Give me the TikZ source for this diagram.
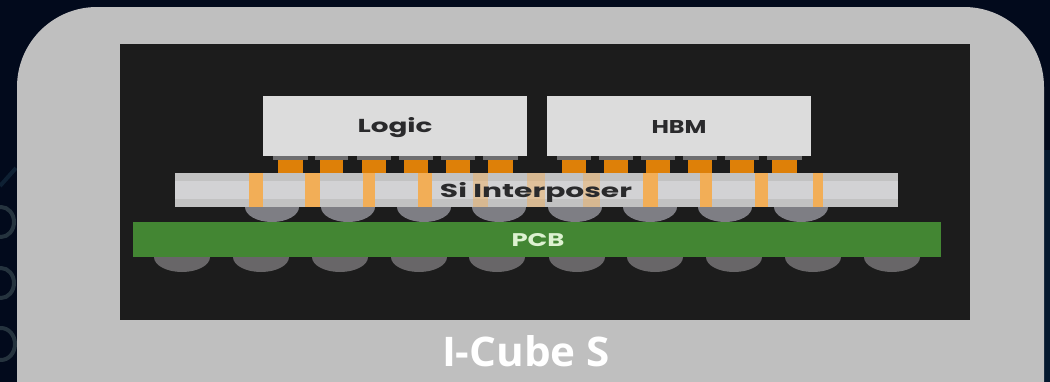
\documentclass[tikz,border=0pt]{standalone}
\usepackage{fontspec}
\setmainfont{Poppins}
\newfontfamily\capfont{Open Sans}
\definecolor{bgnavy}{HTML}{020A1C}
\definecolor{bgblue}{HTML}{04182E}
\definecolor{panel}{HTML}{BFBFBF}
\definecolor{frameblack}{HTML}{1C1C1C}
\definecolor{chipgrey}{HTML}{DCDCDC}
\definecolor{intergrey}{HTML}{D2D2D4}
\definecolor{interband}{HTML}{C2C2C2}
\definecolor{pcbgreen}{HTML}{438633}
\definecolor{pad}{HTML}{DE8008}
\definecolor{via}{HTML}{F2AE57}
\definecolor{ballup}{HTML}{7E7E84}
\definecolor{balllow}{HTML}{686668}
\definecolor{padrim}{HTML}{6E6E70}
\definecolor{ring}{HTML}{25333E}
\definecolor{darktext}{HTML}{2A2A2C}
\definecolor{pcbtext}{HTML}{DDF2D0}
\tikzset{
  chip/.style={fill=chipgrey,draw=none,minimum height=45pt,minimum width=198pt,inner sep=0pt,text=darktext},
  padbar/.style={fill=pad,draw=none},
  viabar/.style={fill=via,draw=none},
  fadevia/.style={fill=via,draw=none,opacity=0.45},
  ringline/.style={draw=ring,line width=3pt},
}
\newcommand{\wtxt}[3]{\resizebox{0.75\dimexpr #1pt\relax}{0.75\dimexpr #2pt\relax}{#3}}
\begin{document}
\begin{tikzpicture}[x=0.75pt,y=-0.75pt]
\useasboundingbox (0,0) rectangle (1050,382);
\fill[bgnavy] (0,0) rectangle (1050,382);
\fill[bgblue] (1044,150) rectangle (1050,382);
% faint rings at the left edge
\begin{scope}
\clip (0,0) rectangle (17,382);
\draw[ringline] (1,222) ellipse[x radius=13,y radius=15];
\draw[ringline] (1,283) ellipse[x radius=13,y radius=15];
\draw[ringline] (1,344) ellipse[x radius=14,y radius=16];
\draw[ringline,draw=bgblue!70!ring] (0,186) -- (16,168);
\end{scope}
\fill[panel] (17,382) -- (17,87) arc[start angle=180,end angle=270,radius=80] -- (964,7) arc[start angle=270,end angle=360,radius=80] -- (1044,382) -- cycle;
\fill[frameblack] (120,44) rectangle (970,320);
% lower balls
\foreach \c in {182,261,340,419,497,577,655,734,813,892}
  \fill[balllow] (\c-28,257) arc[start angle=180,end angle=0,x radius=28,y radius=15] -- cycle;
% upper balls
\foreach \c in {272,348,424,499,575,650,725,801}
  \fill[ballup] (\c-27,207) arc[start angle=180,end angle=0,x radius=27,y radius=15] -- cycle;
% pads
\foreach \a/\b in {278/303,320/343,362/386,404/428,446/470,488/513,562/586,604/628,646/670,688/712,730/754,772/797}{
  \fill[padrim] (\a-5,156) rectangle (\b+5,160);
  \fill[padbar] (\a,160) rectangle (\b,173);
}
% interposer
\fill[intergrey] (175,173) rectangle (898,207);
\fill[interband] (175,173) rectangle (898,181);
\fill[interband] (175,199) rectangle (898,207);
\foreach \a/\b in {249/263,305/320,363/375,418/432,643/658,700/712,755/768,813/823}
  \fill[viabar] (\a,173) rectangle (\b,207);
\foreach \a/\b in {473/488,527/545,583/600}
  \fill[fadevia] (\a,173) rectangle (\b,207);
\node[inner sep=0pt,text=darktext] (si) at (536,192) {\wtxt{192}{15}{\bfseries Si Interposer}};
\node[chip] (logic) at (395,126) {};
\node[inner sep=0pt,text=darktext] (logictext) at (395,128) {\wtxt{75}{15}{\bfseries Logic}};
\node[chip] (hbm) at (679,126) {};
\node[inner sep=0pt,text=darktext] (hbmtext) at (679,127) {\wtxt{55}{13}{\bfseries HBM}};
\fill[pcbgreen] (133,222) rectangle (941,257);
\node[inner sep=0pt,text=pcbtext] (pcb) at (538,240) {\wtxt{53}{13}{\bfseries PCB}};
\node[inner sep=0pt,text=white] (cap) at (526,351) {\wtxt{168}{31}{\capfont\bfseries I-Cube S}};
\end{tikzpicture}
\end{document}
